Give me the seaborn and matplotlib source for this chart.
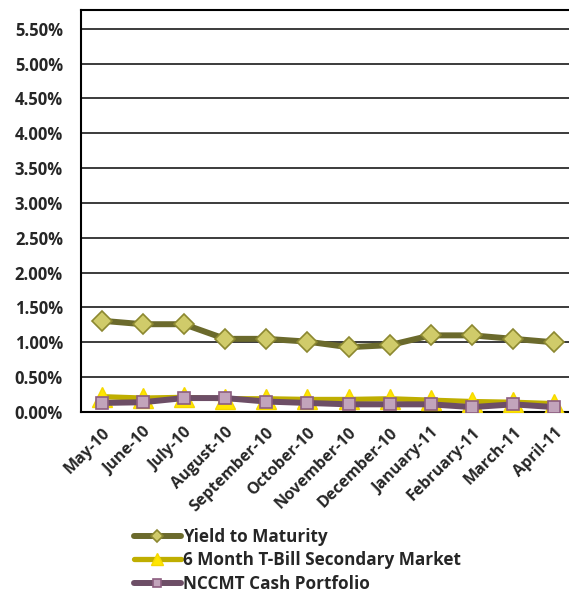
import numpy as np
import pandas as pd
import matplotlib
matplotlib.use('Agg')
import matplotlib.pyplot as plt
import seaborn as sns

# data (percent)
months = ['May-10', 'June-10', 'July-10', 'August-10', 'September-10', 'October-10',
          'November-10', 'December-10', 'January-11', 'February-11', 'March-11', 'April-11']
ytm = [1.31, 1.26, 1.26, 1.05, 1.05, 1.01, 0.93, 0.96, 1.10, 1.10, 1.05, 1.00]
tbill = [0.22, 0.20, 0.21, 0.19, 0.19, 0.18, 0.18, 0.19, 0.17, 0.15, 0.14, 0.12]
nccmt = [0.13, 0.14, 0.20, 0.20, 0.15, 0.13, 0.11, 0.11, 0.11, 0.07, 0.11, 0.07]
yticks = [0.0, 0.5, 1.0, 1.5, 2.0, 2.5, 3.0, 3.5, 4.0, 4.5, 5.0, 5.5]

sns.set_style('white')
plt.rcParams['font.family'] = ['Open Sans', 'DejaVu Sans']
plt.rcParams['font.weight'] = 'bold'

df = pd.DataFrame({'pos': np.arange(len(months)), 'ytm': ytm, 'tbill': tbill, 'nccmt': nccmt})

fig = plt.figure(figsize=(5.69, 5.94), dpi=100)
ax = fig.add_axes([81 / 569, (594 - 412) / 594, (575 - 81) / 569, (412 - 10) / 594])

sns.lineplot(data=df, x='pos', y='ytm', ax=ax, color='#6b6a2c', linewidth=4.3,
             marker='D', markersize=10.5, markerfacecolor='#d0cb6a',
             markeredgecolor='#8c8830', markeredgewidth=1.2,
             label='Yield to Maturity', zorder=3)
sns.lineplot(data=df, x='pos', y='tbill', ax=ax, color='#bfae00', linewidth=3.8,
             marker='^', markersize=15, markerfacecolor='#ffe600',
             markeredgecolor='#f5d800', markeredgewidth=1.0,
             label='6 Month T-Bill Secondary Market', zorder=4)
sns.lineplot(data=df, x='pos', y='nccmt', ax=ax, color='#6d4e66', linewidth=4.3,
             marker='s', markersize=8.5, markerfacecolor='#c2a4bb',
             markeredgecolor='#8c5e80', markeredgewidth=1.2,
             label='NCCMT Cash Portfolio', zorder=5)

ax.set_xlim(-0.5, len(months) - 0.5)
ax.set_ylim(0, 5.77)
ax.set_yticks(yticks)
ax.set_yticklabels(['%.2f%%' % v for v in yticks], fontsize=12, fontweight='bold')
ax.yaxis.grid(True, color='#1a1a1a', linewidth=1.2)
ax.set_axisbelow(True)

ax.set_xticks(np.arange(len(months)))
ax.set_xticklabels(months, rotation=45, ha='right', rotation_mode='anchor',
                   fontsize=11.5, fontweight='bold')
ax.set_xticks(np.arange(len(months) + 1) - 0.5, minor=True)
ax.tick_params(axis='x', which='major', length=0, pad=9)
ax.tick_params(axis='x', which='minor', length=6, width=1.2, color='black', direction='out')
ax.tick_params(axis='y', length=6, width=1.2, color='black', direction='out', pad=7)
ax.set_xlabel('')
ax.set_ylabel('')

for side in ['left', 'bottom', 'top']:
    ax.spines[side].set_color('black')
    ax.spines[side].set_linewidth(1.5)
ax.spines['right'].set_visible(False)

handles, labels = ax.get_legend_handles_labels()
ax.legend_.remove()
leg = fig.legend(handles, labels, loc='upper left', bbox_to_anchor=(127 / 569, 1 - 521 / 594),
                 frameon=False, handlelength=2.75, handletextpad=0.15, labelspacing=0.32,
                 prop={'size': 12.3, 'weight': 'bold'}, borderaxespad=0)
# smaller markers in the legend, like the reference
for line, ms in zip(leg.get_lines(), [6.5, 9, 6]):
    line.set_markersize(ms)

fig.savefig('out.png', dpi=100)
